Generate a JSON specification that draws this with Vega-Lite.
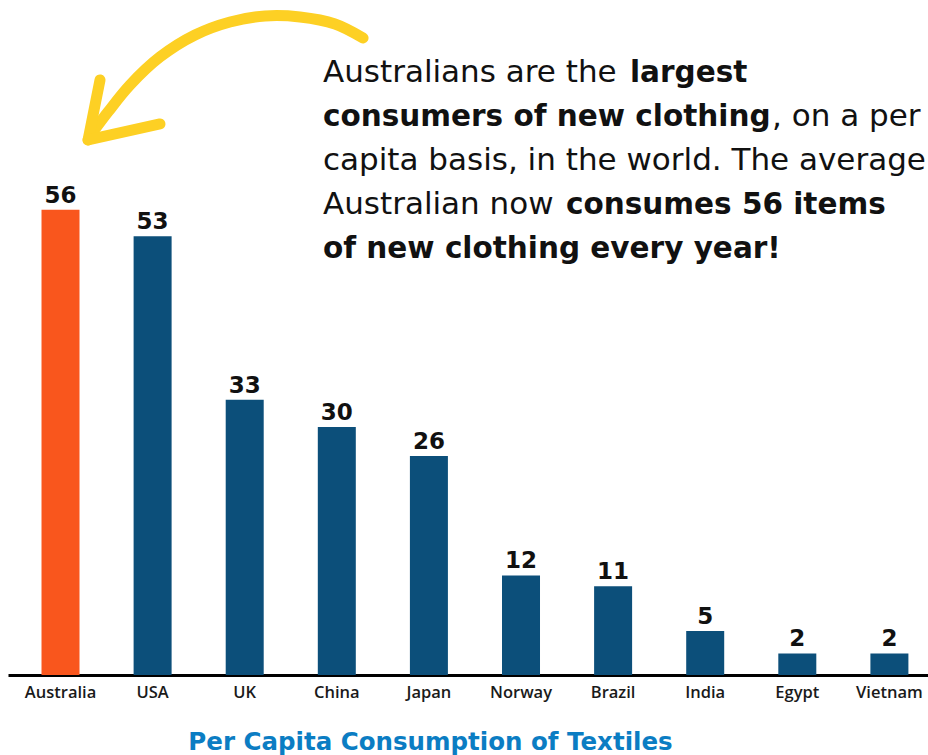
{
  "$schema": "https://vega.github.io/schema/vega-lite/v6.json",
  "width": 920,
  "height": 675,
  "autosize": {"type": "none"},
  "padding": {"left": 8, "top": 0, "right": 0, "bottom": 80},
  "background": "white",
  "config": {"view": {"stroke": null}, "font": "DejaVu Sans"},
  "datasets": {
    "consumption": [
      {"country": "Australia", "items": 56.1, "label": "56"},
      {"country": "USA", "items": 52.9, "label": "53"},
      {"country": "UK", "items": 33.2, "label": "33"},
      {"country": "China", "items": 29.9, "label": "30"},
      {"country": "Japan", "items": 26.4, "label": "26"},
      {"country": "Norway", "items": 12.0, "label": "12"},
      {"country": "Brazil", "items": 10.7, "label": "11"},
      {"country": "India", "items": 5.3, "label": "5"},
      {"country": "Egypt", "items": 2.6, "label": "2"},
      {"country": "Vietnam", "items": 2.6, "label": "2"}
    ],
    "arrow": [
      {"part": "shaft", "step": 1, "ax": 3.273, "ay": 76.82},
      {"part": "shaft", "step": 2, "ax": 2.967, "ay": 78.51},
      {"part": "shaft", "step": 3, "ax": 2.585, "ay": 79.35},
      {"part": "shaft", "step": 4, "ax": 2.204, "ay": 79.47},
      {"part": "shaft", "step": 5, "ax": 1.822, "ay": 78.75},
      {"part": "shaft", "step": 6, "ax": 1.44, "ay": 77.18},
      {"part": "shaft", "step": 7, "ax": 1.058, "ay": 74.53},
      {"part": "shaft", "step": 8, "ax": 0.731, "ay": 71.15},
      {"part": "shaft", "step": 9, "ax": 0.491, "ay": 67.9},
      {"part": "shaft", "step": 10, "ax": 0.295, "ay": 65.01},
      {"part": "barb1", "step": 1, "ax": 0.273, "ay": 64.52},
      {"part": "barb1", "step": 2, "ax": 0.404, "ay": 71.76},
      {"part": "barb2", "step": 1, "ax": 0.273, "ay": 64.52},
      {"part": "barb2", "step": 2, "ax": 1.058, "ay": 66.45}
    ],
    "notesRegular": [
      {"seg": "Australians are the", "nx": 2.836, "ny": 71.53},
      {"seg": ", on a per", "nx": 7.735, "ny": 66.22},
      {"seg": "capita basis, in the world. The average", "nx": 2.836, "ny": 60.92},
      {"seg": "Australian now", "nx": 2.836, "ny": 55.61}
    ],
    "notesBold": [
      {"seg": "largest", "nx": 6.185, "ny": 71.53},
      {"seg": "consumers of new clothing", "nx": 2.836, "ny": 66.22},
      {"seg": "consumes 56 items", "nx": 5.487, "ny": 55.61},
      {"seg": "of new clothing every year!", "nx": 2.836, "ny": 50.3}
    ]
  },
  "layer": [
    {
      "data": {"name": "consumption"},
      "encoding": {
        "x": {
          "field": "country",
          "type": "nominal",
          "sort": null,
          "scale": {"paddingInner": 0.5874, "paddingOuter": 0.2883, "align": 0.631},
          "axis": {
            "title": "Per Capita Consumption of Textiles",
            "titleFont": "DejaVu Sans",
            "titleFontSize": 24.5,
            "titleFontWeight": "bold",
            "titleColor": "#0B7DC3",
            "titleX": 422,
            "titleY": 67,
            "titleAlign": "center",
            "titleBaseline": "middle",
            "labelFont": "Open Sans",
            "labelFontSize": 16.5,
            "labelFontWeight": 600,
            "labelColor": "#1a1a1a",
            "labelPadding": 9,
            "labelAngle": 0,
            "ticks": false,
            "grid": false,
            "domainColor": "#000000",
            "domainWidth": 3
          }
        },
        "y": {
          "field": "items",
          "type": "quantitative",
          "scale": {"domain": [0, 81.4], "nice": false},
          "axis": null
        }
      },
      "layer": [
        {
          "mark": {"type": "bar"},
          "encoding": {
            "color": {
              "condition": {"test": "datum.country === 'Australia'", "value": "#F9561D"},
              "value": "#0C4F7A"
            }
          }
        },
        {
          "mark": {"type": "text", "baseline": "alphabetic", "dy": -7, "fontSize": 23, "fontWeight": "bold", "color": "#111111"},
          "encoding": {"text": {"field": "label", "type": "nominal"}}
        }
      ]
    },
    {
      "data": {"name": "arrow"},
      "mark": {"type": "line", "color": "#FDD024", "strokeWidth": 11, "strokeCap": "round", "strokeJoin": "round", "interpolate": "catmull-rom"},
      "encoding": {
        "x": {"field": "ax", "type": "quantitative", "scale": {"domain": [-0.6, 9.436], "nice": false, "zero": false}, "axis": null},
        "y": {"field": "ay", "type": "quantitative", "scale": {"domain": [0, 81.4], "nice": false}, "axis": null},
        "detail": {"field": "part", "type": "nominal"},
        "order": {"field": "step", "type": "quantitative"}
      }
    },
    {
      "data": {"name": "notesRegular"},
      "mark": {"type": "text", "align": "left", "baseline": "alphabetic", "fontSize": 31, "fontWeight": "normal", "color": "#111111"},
      "encoding": {
        "x": {"field": "nx", "type": "quantitative", "scale": {"domain": [-0.6, 9.436], "nice": false, "zero": false}, "axis": null},
        "y": {"field": "ny", "type": "quantitative", "scale": {"domain": [0, 81.4], "nice": false}, "axis": null},
        "text": {"field": "seg", "type": "nominal"}
      }
    },
    {
      "data": {"name": "notesBold"},
      "mark": {"type": "text", "align": "left", "baseline": "alphabetic", "fontSize": 29.5, "fontWeight": "bold", "color": "#111111"},
      "encoding": {
        "x": {"field": "nx", "type": "quantitative", "scale": {"domain": [-0.6, 9.436], "nice": false, "zero": false}, "axis": null},
        "y": {"field": "ny", "type": "quantitative", "scale": {"domain": [0, 81.4], "nice": false}, "axis": null},
        "text": {"field": "seg", "type": "nominal"}
      }
    }
  ],
  "resolve": {"scale": {"x": "independent"}}
}
